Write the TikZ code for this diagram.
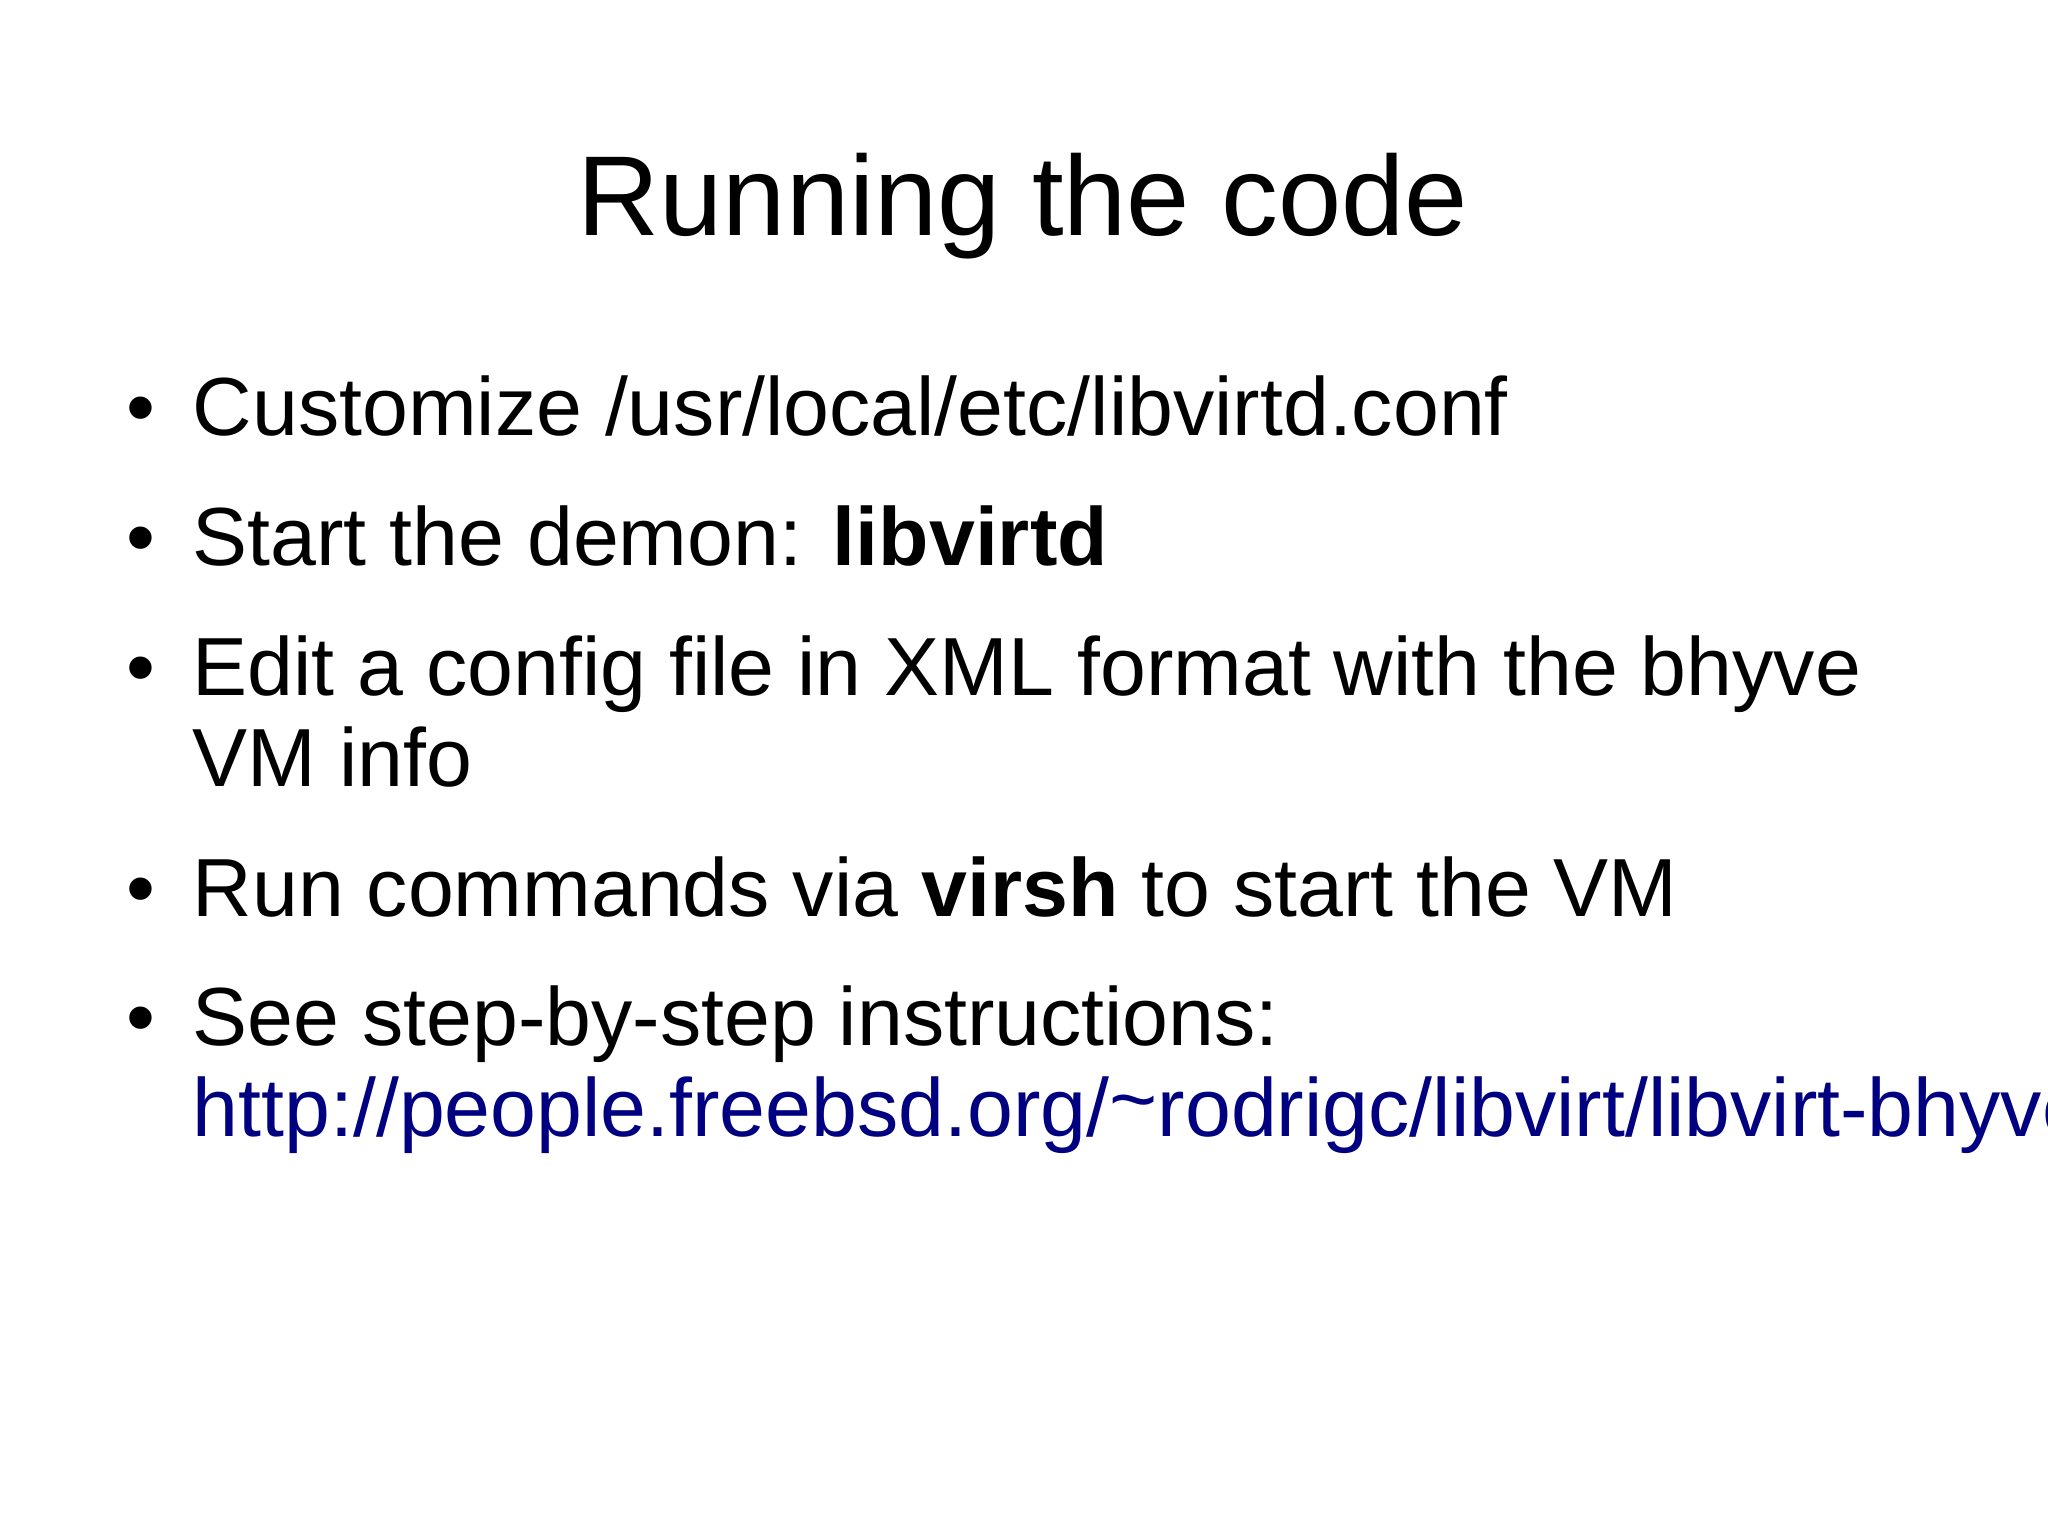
\documentclass[tikz,border=0pt]{standalone}
\usepackage{fontspec}
\setmainfont{Liberation Sans}
\definecolor{linkc}{RGB}{0,0,128}
\begin{document}
\begin{tikzpicture}[x=0.01cm,y=-0.01cm,
  body/.style={anchor=base west,inner sep=0pt,font=\fontsize{23.45}{28}\selectfont},
  bul/.style={anchor=base,inner sep=0pt,font=\fontsize{23.45}{28}\selectfont}]
\useasboundingbox (0,0) rectangle (2048,1535);
\clip (0,0) rectangle (2048,1535);
\node[anchor=base,inner sep=0pt,font=\fontsize{32.3}{38}\selectfont] (title) at (1023,235) {Running the code};
\foreach \y/\n in {435/a,565/b,695/c,916/d,1045/e} \node[bul] (b\n) at (141,\y) {\textbullet};
\node[body] (t1) at (192,435) {Customize /usr/local/etc/libvirtd.conf};
\node[body] (t2) at (192,565) {Start the demon: \textbf{libvirtd}};
\node[body] (t3) at (192,695) {Edit a config file in XML format with the bhyve};
\node[body] (t3b) at (192,786) {VM info};
\node[body] (t4) at (192,916) {Run commands via \textbf{virsh} to start the VM};
\node[body] (t5) at (192,1045) {See step-by-step instructions:};
\node[body,text=linkc] (t5b) at (192,1136) {http://people.freebsd.org/\raisebox{0.1em}{\char`~}rodrigc/libvirt/libvirt-bhyve.html};
\end{tikzpicture}
\end{document}
